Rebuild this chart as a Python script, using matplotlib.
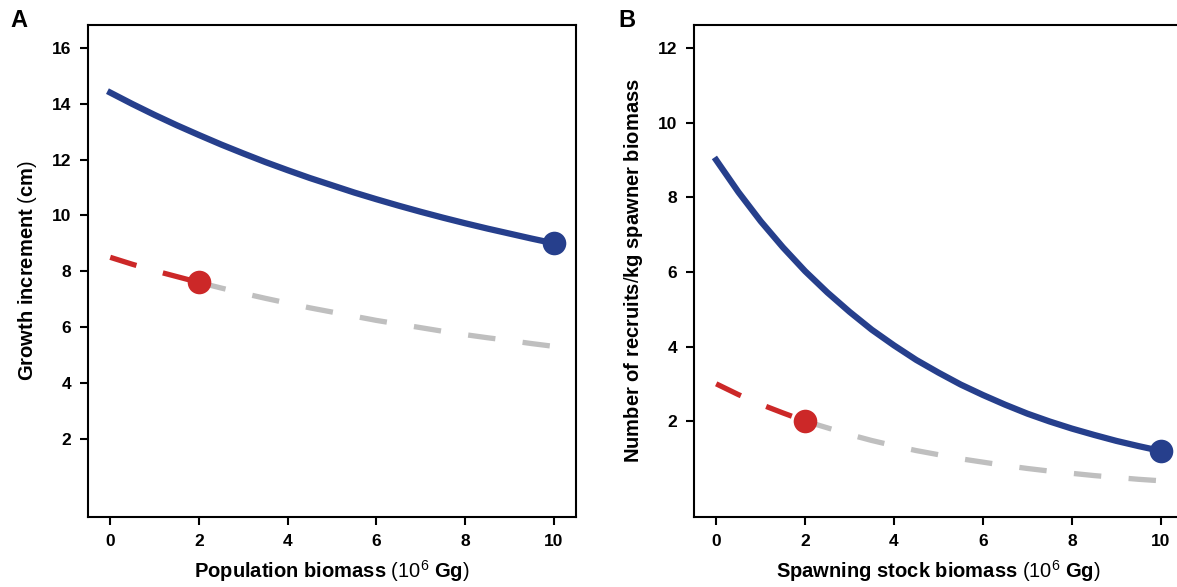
import matplotlib
matplotlib.use('Agg')
import matplotlib.pyplot as plt

plt.rcParams['font.family'] = ['Liberation Sans', 'DejaVu Sans']
plt.rcParams['mathtext.fontset'] = 'custom'
plt.rcParams['mathtext.rm'] = 'Liberation Sans'
plt.rcParams['mathtext.it'] = 'Liberation Sans'

# values, every half unit of biomass
x = [0, 0.5, 1, 1.5, 2, 2.5, 3, 3.5, 4, 4.5, 5,
     5.5, 6, 6.5, 7, 7.5, 8, 8.5, 9, 9.5, 10]

# panel A: growth increment (cm)
growth_high = [14.4, 13.99, 13.6, 13.23, 12.88, 12.54, 12.22, 11.91, 11.62, 11.34, 11.08,
               10.82, 10.58, 10.35, 10.13, 9.92, 9.72, 9.53, 9.35, 9.17, 9.0]
growth_low = [8.5, 8.25, 8.02, 7.81, 7.6, 7.4, 7.21, 7.03, 6.86, 6.69, 6.54,
              6.39, 6.24, 6.11, 5.98, 5.85, 5.73, 5.62, 5.52, 5.41, 5.31]

# panel B: recruits per kg spawner biomass
recruits_high = [9.0, 8.14, 7.36, 6.66, 6.02, 5.45, 4.93, 4.45, 4.03, 3.64, 3.3,
                 2.98, 2.7, 2.44, 2.2, 1.99, 1.8, 1.63, 1.47, 1.33, 1.2]
recruits_low = [3.0, 2.71, 2.45, 2.22, 2.0, 1.82, 1.64, 1.48, 1.34, 1.21, 1.1,
                0.99, 0.9, 0.81, 0.73, 0.66, 0.6, 0.54, 0.49, 0.44, 0.4]

x_ticks = [0, 2, 4, 6, 8, 10]
growth_yticks = [2, 4, 6, 8, 10, 12, 14, 16]
recruits_yticks = [2, 4, 6, 8, 10, 12]

split = 2  # where the red part ends and the dot sits

BLUE = '#263f8c'
RED = '#cc2828'
GREY = '#bfbfbf'


def draw_panel(ax, high, low, yticks, ylim, xlabel, ylabel):
    i = x.index(split)
    ax.plot(x[i:], low[i:], color=GREY, lw=3.8, dashes=(5.2, 5.2), zorder=2)
    ax.plot(x[:i + 1], low[:i + 1], color=RED, lw=3.8, dashes=(5.2, 5.2), zorder=3)
    ax.plot(x[i], low[i], 'o', color=RED, ms=17, mec='none', zorder=4)
    ax.plot(x, high, color=BLUE, lw=4.5, solid_joinstyle='round', zorder=3)
    ax.plot(x[-1], high[-1], 'o', color=BLUE, ms=17, mec='none', zorder=4)

    ax.set_xlim(-0.5, 10.5)
    ax.set_ylim(*ylim)
    ax.set_xticks(x_ticks)
    ax.set_yticks(yticks)
    for s in ax.spines.values():
        s.set_linewidth(1.5)
    ax.tick_params(direction='out', length=6, width=1.5, labelsize=12.5, pad=6)
    for lab in ax.get_xticklabels() + ax.get_yticklabels():
        lab.set_fontweight('bold')
    ax.set_xlabel(xlabel, fontsize=14.5, fontweight='bold', labelpad=7)
    ax.set_ylabel(ylabel, fontsize=14.5, fontweight='bold', labelpad=9)


fig = plt.figure(figsize=(11.77, 5.87), dpi=100)
ax1 = fig.add_axes([0.0748, 0.1193, 0.4146, 0.8381])
ax2 = fig.add_axes([0.5896, 0.1193, 0.4155, 0.8381])

draw_panel(ax1, growth_high, growth_low, growth_yticks, (-0.8, 16.82),
           r'Population biomass $(10^6$ Gg$)$', r'Growth increment $($cm$)$')
draw_panel(ax2, recruits_high, recruits_low, recruits_yticks, (-0.57, 12.62),
           r'Spawning stock biomass $(10^6$ Gg$)$', r'Number of recruits$/$kg spawner biomass')

fig.text(0.009, 0.965, 'A', fontsize=17, fontweight='bold', va='center')
fig.text(0.525, 0.965, 'B', fontsize=17, fontweight='bold', va='center')

fig.savefig('out.png', dpi=100)
